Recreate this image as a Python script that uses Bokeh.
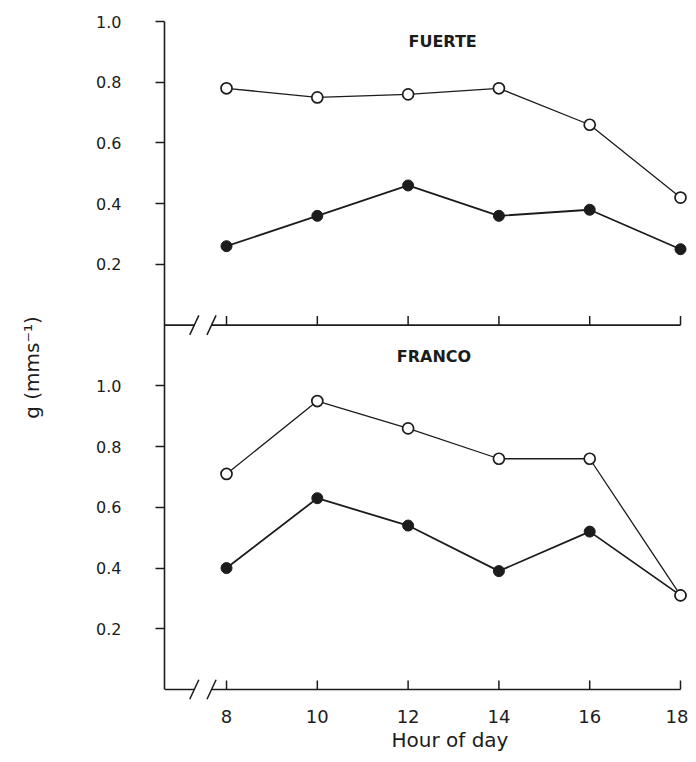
from bokeh.plotting import figure
from bokeh.models import (Range1d, FixedTicker, CustomJSTickFormatter, Label, Title,
                          LinearAxis)
from bokeh.embed import file_html
from bokeh.resources import INLINE

# ---------------- data ----------------
hours = [8, 10, 12, 14, 16, 18]
fuerte_open = [0.78, 0.75, 0.76, 0.78, 0.66, 0.42]
fuerte_filled = [0.26, 0.36, 0.46, 0.36, 0.38, 0.25]
franco_open = [0.71, 0.95, 0.86, 0.76, 0.76, 0.31]
franco_filled = [0.40, 0.63, 0.54, 0.39, 0.52, 0.31]
x_ticks = [8, 10, 12, 14, 16, 18]
y_ticks = [0.2, 0.4, 0.6, 0.8, 1.0]
x_label = "Hour of day"
y_label = "g (mms\u207b\u00b9)"
panel_titles = ["FUERTE", "FRANCO"]

# ---------------- layout constants ----------------
OFF = 1.2                      # top panel sits OFF units above bottom panel
X0, X1 = 6.634, 18.176
Y0, Y1 = -0.079, 2.2
BREAKS = [7.29, 7.67]          # axis-break slash centres
TICK_H = 0.03
SL_DX, SL_DY = 0.1, 0.032
INK = "#1c1c1c"
FONT = "DejaVu Sans"

p = figure(width=688, height=754,
           x_range=Range1d(X0, X1), y_range=Range1d(Y0, Y1),
           output_backend="svg", toolbar_location=None,
           min_border_left=164, min_border_right=0,
           min_border_top=21, min_border_bottom=41)
p.extra_y_ranges = {"top": Range1d(Y0 - OFF, Y1 - OFF)}
p.outline_line_color = None
p.xgrid.grid_line_color = None
p.ygrid.grid_line_color = None
p.background_fill_color = "white"

# x axis: labels only (lines drawn per panel)
xa = p.xaxis[0]
xa.ticker = FixedTicker(ticks=x_ticks)
xa.axis_line_color = None
xa.major_tick_line_color = None
xa.minor_tick_line_color = None
xa.major_tick_out = 0
xa.major_tick_in = 0
xa.major_label_standoff = -4
xa.major_label_text_font = FONT
xa.major_label_text_font_size = "18px"
xa.major_label_text_color = INK

# y axis shared by both panels
ya = p.yaxis[0]
ya.ticker = FixedTicker(ticks=y_ticks + [t + OFF for t in y_ticks])
ya.formatter = CustomJSTickFormatter(args=dict(off=OFF), code="""
    const v = tick > off + 1e-6 ? tick - off : tick;
    return v.toFixed(1);
""")
ya.bounds = (0, Y1)
ya.axis_line_width = 1.6
ya.axis_line_color = INK
ya.major_tick_out = 9
ya.major_tick_in = 0
ya.major_tick_line_width = 1.5
ya.major_tick_line_color = INK
ya.minor_tick_line_color = None
ya.major_label_standoff = 34
ya.major_label_text_font = FONT
ya.major_label_text_font_size = "16px"
ya.major_label_text_color = INK

# outer, line-less axis that only carries the shared y label
label_axis = LinearAxis(ticker=FixedTicker(ticks=[]),
                        axis_line_color=None, major_tick_line_color=None,
                        minor_tick_line_color=None, major_tick_out=0, major_tick_in=0,
                        major_label_standoff=0,
                        axis_label=y_label, axis_label_standoff=50,
                        axis_label_text_font=FONT, axis_label_text_font_style="normal",
                        axis_label_text_font_size="20px", axis_label_text_color=INK)
p.add_layout(label_axis, "left")

panels = [("top", fuerte_open, fuerte_filled), ("default", franco_open, franco_filled)]
for rng, opn, fil in panels:
    # panel x-axis line with break
    p.segment(x0=[X0, BREAKS[1]], y0=[0, 0], x1=[BREAKS[0], x_ticks[-1]], y1=[0, 0],
              y_range_name=rng, line_color=INK, line_width=1.6)
    p.segment(x0=x_ticks, y0=[0] * len(x_ticks), x1=x_ticks, y1=[TICK_H] * len(x_ticks),
              y_range_name=rng, line_color=INK, line_width=1.5)
    p.segment(x0=[b - SL_DX for b in BREAKS], y0=[-SL_DY] * 2,
              x1=[b + SL_DX for b in BREAKS], y1=[SL_DY] * 2,
              y_range_name=rng, line_color=INK, line_width=1.5)
    # data
    p.line(hours, fil, y_range_name=rng, line_color=INK, line_width=1.8)
    p.line(hours, opn, y_range_name=rng, line_color=INK, line_width=1.3)
    p.scatter(hours, fil, y_range_name=rng, size=11, marker="circle",
              fill_color=INK, line_color=INK, line_width=1)
    p.scatter(hours, opn, y_range_name=rng, size=11, marker="circle",
              fill_color="white", line_color=INK, line_width=1.7)

p.add_layout(Label(x=12.76, y=0.933, y_range_name="top", text=panel_titles[0],
                   text_align="center", text_baseline="middle",
                   text_font=FONT, text_font_style="bold", text_font_size="16px",
                   text_color=INK))
p.add_layout(Label(x=12.57, y=1.098, text=panel_titles[1],
                   text_align="center", text_baseline="middle",
                   text_font=FONT, text_font_style="bold", text_font_size="16px",
                   text_color=INK))

p.add_layout(Title(text=x_label, align="left", offset=227, standoff=0,
                   text_font=FONT, text_font_style="normal", text_font_size="20px",
                   text_color=INK), "below")

open("out.html", "w").write(file_html(p, INLINE))
